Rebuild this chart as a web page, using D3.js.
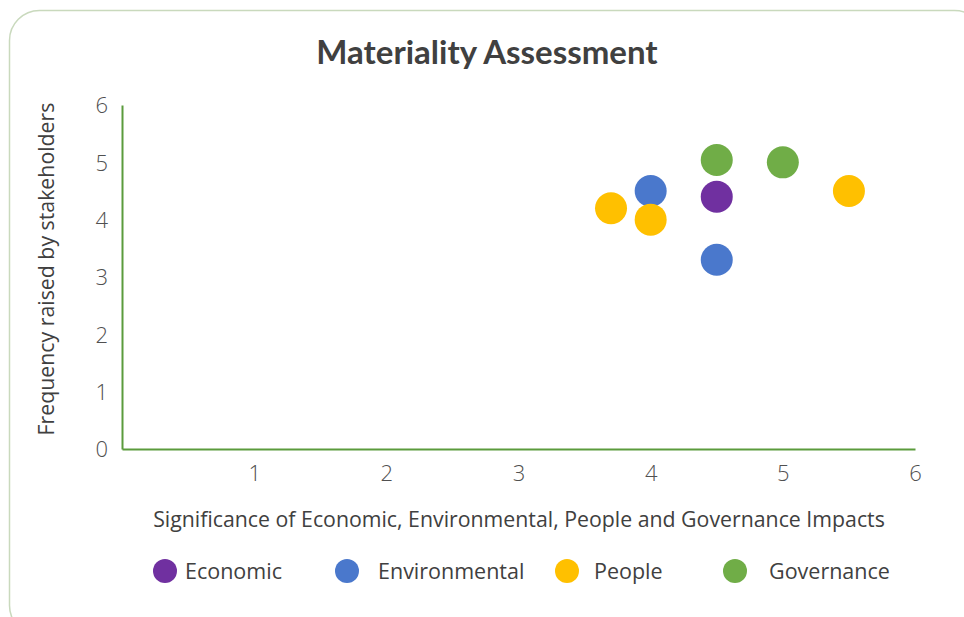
<!DOCTYPE html>
<html lang="en">
<head>
    <meta charset="UTF-8">
    <title>Materiality Assessment</title>
    <script src="https://d3js.org/d3.v7.min.js"></script>
    <style>
        body {
            margin: 0;
            font-family: "Open Sans", sans-serif;
            background: #fff;
        }
        svg {
            display: block;
        }
    </style>
</head>
<body>
    <div id="container"></div>
    <script>
        // categories and values
        const categories = ['Economic', 'Environmental', 'People', 'Governance'];
        const colors = ['#7030a0', '#4a78cc', '#ffc000', '#70ad47'];

        const economicX = [4.5];
        const economicY = [4.4];
        const environmentalX = [4.0, 4.5];
        const environmentalY = [4.5, 3.3];
        const peopleX = [3.7, 4.0, 5.5];
        const peopleY = [4.2, 4.0, 4.5];
        const governanceX = [4.5, 5.0];
        const governanceY = [5.04, 5.0];

        const xTicks = [1, 2, 3, 4, 5, 6];
        const yTicks = [0, 1, 2, 3, 4, 5, 6];

        const seriesX = [economicX, environmentalX, peopleX, governanceX];
        const seriesY = [economicY, environmentalY, peopleY, governanceY];

        const points = [];
        categories.forEach((c, i) => {
            seriesX[i].forEach((x, j) => {
                points.push({ cat: c, x: x, y: seriesY[i][j] });
            });
        });

        const width = 964, height = 617;
        const svg = d3.select('#container').append('svg')
            .attr('width', width)
            .attr('height', height);

        // card border
        svg.append('rect')
            .attr('x', 9.5).attr('y', 10.5)
            .attr('width', 975).attr('height', 625)
            .attr('rx', 30)
            .attr('fill', 'none')
            .attr('stroke', '#c9d9bd')
            .attr('stroke-width', 1.5);

        const x = d3.scaleLinear().domain([0, 6]).range([122, 915]);
        const y = d3.scaleLinear().domain([0, 6]).range([449, 105]);
        const color = d3.scaleOrdinal().domain(categories).range(colors);

        // title
        svg.append('text')
            .attr('x', 487).attr('y', 64)
            .attr('text-anchor', 'middle')
            .attr('font-family', 'Lato, sans-serif')
            .attr('font-size', 33)
            .attr('font-weight', 'bold')
            .attr('fill', '#404040')
            .text('Materiality Assessment');

        // axes
        const xAxis = svg.append('g')
            .attr('transform', `translate(0, ${y(0)})`)
            .call(d3.axisBottom(x).tickValues(xTicks).tickFormat(d3.format('d')).tickSize(0).tickPadding(13));
        const yAxis = svg.append('g')
            .attr('transform', `translate(${x(0)}, 0)`)
            .call(d3.axisLeft(y).tickValues(yTicks).tickFormat(d3.format('d')).tickSize(0).tickPadding(14));

        [xAxis, yAxis].forEach(g => {
            g.select('.domain').attr('stroke', '#5b9b3c').attr('stroke-width', 2);
            g.selectAll('text')
                .attr('font-family', '"Open Sans", sans-serif')
                .attr('font-weight', 300)
                .attr('font-size', 22)
                .attr('fill', '#505050');
        });
        xAxis.selectAll('text').attr('dy', '0.85em');
        yAxis.selectAll('text').attr('dy', '0.35em');

        // axis titles
        svg.append('text')
            .attr('x', 519).attr('y', 527)
            .attr('text-anchor', 'middle')
            .attr('font-size', 21.3)
            .attr('fill', '#404040')
            .text('Significance of Economic, Environmental, People and Governance Impacts');

        svg.append('text')
            .attr('transform', 'translate(54, 269) rotate(-90)')
            .attr('text-anchor', 'middle')
            .attr('font-size', 21.3)
            .attr('fill', '#404040')
            .text('Frequency raised by stakeholders');

        // points
        svg.selectAll('circle.pt')
            .data(points)
            .enter()
            .append('circle')
            .attr('class', 'pt')
            .attr('cx', d => x(d.x))
            .attr('cy', d => y(d.y))
            .attr('r', 16)
            .attr('fill', d => color(d.cat));

        // legend
        const legendMarkerX = [165, 347, 567, 735];
        const legendTextX = [185, 378, 594, 769];
        const legend = svg.selectAll('g.legend')
            .data(categories)
            .enter()
            .append('g')
            .attr('class', 'legend');
        legend.append('circle')
            .attr('cx', (d, i) => legendMarkerX[i])
            .attr('cy', 571)
            .attr('r', 12)
            .attr('fill', d => color(d));
        legend.append('text')
            .attr('x', (d, i) => legendTextX[i])
            .attr('y', 571)
            .attr('dy', '0.35em')
            .attr('font-size', 21.5)
            .attr('fill', '#404040')
            .text(d => d);
    </script>
</body>
</html>
